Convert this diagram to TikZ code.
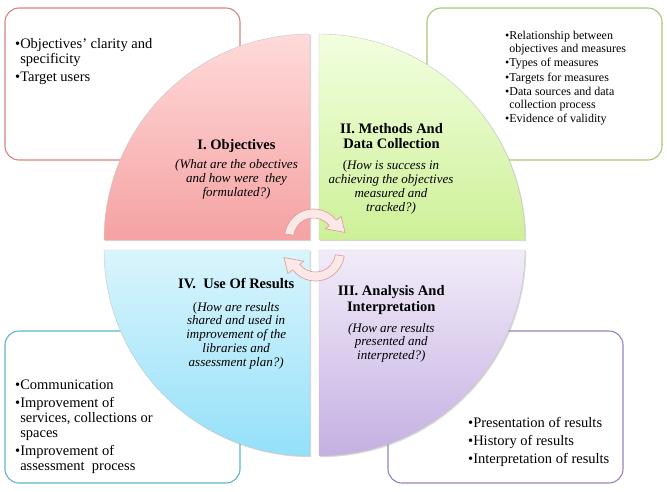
\documentclass[tikz,border=0pt]{standalone}
\usepackage{fontspec}
\setmainfont{Liberation Serif}
\usetikzlibrary{shadows}

\definecolor{objline}{RGB}{214,132,130}
\definecolor{methline}{RGB}{168,198,118}
\definecolor{useline}{RGB}{98,178,206}
\definecolor{analine}{RGB}{150,128,188}
\definecolor{objtop}{RGB}{255,218,218}
\definecolor{objbot}{RGB}{245,162,162}
\definecolor{methtop}{RGB}{242,255,224}
\definecolor{methbot}{RGB}{206,240,152}
\definecolor{usetop}{RGB}{218,245,252}
\definecolor{usebot}{RGB}{148,224,250}
\definecolor{anatop}{RGB}{242,236,249}
\definecolor{anabot}{RGB}{196,176,226}
\definecolor{turnfill}{RGB}{253,232,232}
\definecolor{turnline}{RGB}{214,152,152}

\newcommand{\bulletmark}{\makebox[0.35em][l]{\textbullet}}
\newcommand{\bulletgap}{\hspace*{0.35em}}

\begin{document}
\begin{tikzpicture}
  [x=1pt,y=-1pt,every node/.style={inner sep=0pt},
   listbox/.style={draw,fill=white,rounded corners=14pt,line width=1.1pt,minimum width=235pt,minimum height=152pt},
   quad/.style={draw=black!22,line width=.4pt,drop shadow={opacity=.3,shadow xshift=1.2pt,shadow yshift=-1.2pt}},
   turn/.style={fill=turnfill,draw=turnline,line width=.6pt},
   qtitle/.style={align=center,anchor=north,font=\fontsize{14.5}{15.8}\selectfont\bfseries},
   qsub/.style={align=center,anchor=north,font=\fontsize{13}{13.8}\selectfont\itshape},
   itemtext/.style={align=left,anchor=north west,font=\fontsize{14.5}{15.6}\selectfont}]

  \useasboundingbox (0,0) rectangle (667,491);

  \node[listbox,draw=objline] (objbox) at (122.5,84) {};
  \node[listbox,draw=methline] (methbox) at (544.5,84) {};
  \node[listbox,draw=useline] (usebox) at (122.5,407) {};
  \node[listbox,draw=analine] (anabox) at (505.5,407) {};

  \foreach \cx/\cy/\sa/\tc/\bc in {310/240/180/objtop/objbot,319/240/270/methtop/methbot,
                                  319/250/0/anatop/anabot,310/250/90/usetop/usebot}
    \draw[quad,top color=\tc,bottom color=\bc] (\cx,\cy) -- ++(\sa:206)
      arc[start angle=\sa,delta angle=90,radius=206] -- cycle;

  \coordinate (upc) at (313.5,238);
  \coordinate (dnc) at (315.5,252);
  \draw[turn] ([shift={(upc)}]188:29) arc[start angle=188,end angle=322,radius=29]
    -- ([shift={(upc)}]322:35) -- ([shift={(upc)}]350:32) -- ([shift={(upc)}]322:15)
    -- ([shift={(upc)}]322:20) arc[start angle=322,end angle=188,radius=20] -- cycle;
  \draw[turn] ([shift={(dnc)}]8:29) arc[start angle=8,end angle=142,radius=29]
    -- ([shift={(dnc)}]142:35) -- ([shift={(dnc)}]170:32) -- ([shift={(dnc)}]142:15)
    -- ([shift={(dnc)}]142:20) arc[start angle=142,end angle=8,radius=20] -- cycle;

  \node[itemtext] (objlist) at (15,37.8)
    {\bulletmark Objectives' clarity and\\ \bulletgap specificity\\[2.1pt] \bulletmark Target users};
  \node[itemtext,font=\fontsize{12}{12.9}\selectfont] (methlist) at (505,31.1)
    {\bulletmark Relationship between\\ \bulletgap objectives and measures\\[1.4pt]
     \bulletmark Types of measures\\[1.4pt] \bulletmark Targets for measures\\[1.4pt]
     \bulletmark Data sources and data\\ \bulletgap collection process\\[1.4pt]
     \bulletmark Evidence of validity};
  \node[itemtext,font=\fontsize{14.5}{15}\selectfont] (uselist) at (15,379.4)
    {\bulletmark Communication\\[3pt] \bulletmark Improvement of\\ \bulletgap services, collections or\\
     \bulletgap spaces\\[3pt] \bulletmark Improvement of\\ \bulletgap assessment~ process};
  \node[itemtext,font=\fontsize{14.5}{15}\selectfont] (analist) at (468,417.4)
    {\bulletmark Presentation of results\\[2.7pt] \bulletmark History of results\\[2.7pt]
     \bulletmark Interpretation of results};

  \node[qtitle] (objtitle) at (236.5,139.2) {I. Objectives};
  \node[qsub] (objq) at (236.5,159.3) {(What are the obectives\\ and how were~ they\\ formulated?)};
  \node[qtitle] (methtitle) at (391.5,122.9) {II. Methods And\\ Data Collection};
  \node[qsub] (methq) at (391,160.5)
    {\textup{(}How is success in\\ achieving the objectives\\ measured and\\ tracked?)};
  \node[qtitle] (anatitle) at (391.2,285.2) {III. Analysis And\\ Interpretation};
  \node[qsub] (anaq) at (391.3,322.9) {(How are results\\ presented and\\ interpreted?)};
  \node[qtitle] (usetitle) at (236.3,278.5) {IV.~ Use Of Results};
  \node[qsub] (useq) at (236.2,301.9)
    {\textup{(}How are results\\ shared and used in\\ improvement of the\\ libraries and\\ assessment plan?)};

\end{tikzpicture}
\end{document}
